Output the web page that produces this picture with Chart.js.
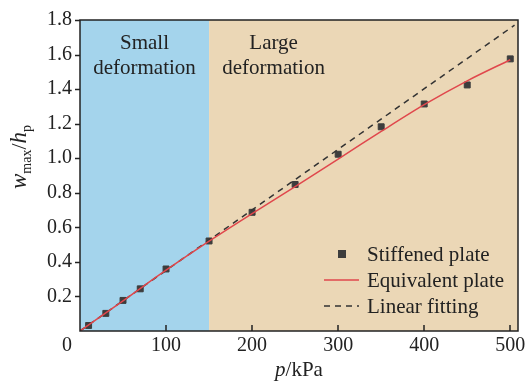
<!DOCTYPE html>
<html><head><meta charset="utf-8">
<script src="https://cdn.jsdelivr.net/npm/chart.js@4/dist/chart.umd.min.js"></script>
<style>html,body{margin:0;padding:0;background:#fff}#wrap{width:530px;height:389px;position:relative}</style>
</head><body><div id="wrap"><canvas id="c" width="530" height="389"></canvas></div>
<script>
// ---- data ----
const pressure   = [10, 30, 50, 70, 100, 150, 200, 250, 300, 350, 400, 450, 500];
const stiffened  = [0.032, 0.102, 0.177, 0.244, 0.359, 0.521, 0.687, 0.848, 1.023, 1.182, 1.314, 1.424, 1.575];
const equivP     = [0, 50, 100, 150, 200, 250, 300, 350, 400, 450, 500];
const equivW     = [0, 0.175, 0.352, 0.52, 0.68, 0.835, 0.995, 1.155, 1.31, 1.448, 1.57];
const fitP       = [0, 505];
const fitW       = [0, 1.77];
const xTicks     = [0, 100, 200, 300, 400, 500];
const yTicks     = [0.2, 0.4, 0.6, 0.8, 1.0, 1.2, 1.4, 1.6, 1.8];
const regionFrom = [0, 150];
const regionTo   = [150, 509];
const regionText = [['Small', 'deformation'], ['Large', 'deformation']];
const regionTextP = [75, 225];
const seriesNames = ['Stiffened plate', 'Equivalent plate', 'Linear fitting'];

const FONT = "'Liberation Serif', 'Times New Roman', serif";
const regionColors = ['#a4d4ec', '#ebd7b6'];
const INK = '#222';

const toXY = (xs, ys) => xs.map((x, i) => ({x, y: ys[i]}));

const decor = {
  id: 'decor',
  beforeDatasetsDraw(chart) {
    const {ctx, chartArea: a, scales: {x, y}} = chart;
    ctx.save();
    regionFrom.forEach((f, i) => {
      const x0 = x.getPixelForValue(f), x1 = x.getPixelForValue(regionTo[i]);
      ctx.fillStyle = regionColors[i];
      ctx.fillRect(x0, a.top, x1 - x0, a.bottom - a.top);
    });
    ctx.fillStyle = INK;
    ctx.font = '21px ' + FONT;
    ctx.textAlign = 'center';
    ctx.textBaseline = 'alphabetic';
    regionText.forEach((lines, i) => {
      const cx = x.getPixelForValue(regionTextP[i]);
      lines.forEach((t, j) => ctx.fillText(t, cx, a.top + 29 + j * 25));
    });
    ctx.restore();
  },
  afterDatasetsDraw(chart) {
    const {ctx, chartArea: a, scales: {x, y}} = chart;
    ctx.save();
    const ds = chart.data.datasets;
    const mx = a.right - 176;
    const rows = [a.bottom - 77, a.bottom - 51, a.bottom - 25];
    ctx.font = '21px ' + FONT;
    ctx.textBaseline = 'middle';
    ctx.textAlign = 'left';
    ctx.fillStyle = ds[0].backgroundColor;
    ctx.fillRect(mx - 4, rows[0] - 4, 8, 8);
    ctx.strokeStyle = ds[1].borderColor; ctx.lineWidth = ds[1].borderWidth;
    ctx.beginPath(); ctx.moveTo(a.right - 194, rows[1]); ctx.lineTo(a.right - 159, rows[1]); ctx.stroke();
    ctx.strokeStyle = ds[2].borderColor; ctx.lineWidth = ds[2].borderWidth;
    ctx.setLineDash(ds[2].borderDash);
    ctx.beginPath(); ctx.moveTo(a.right - 194, rows[2]); ctx.lineTo(a.right - 159, rows[2]); ctx.stroke();
    ctx.setLineDash([]);
    ctx.fillStyle = INK;
    seriesNames.forEach((n, i) => ctx.fillText(n, a.right - 151, rows[i] + 1));
    ctx.restore();
  },
  afterDraw(chart) {
    const {ctx, chartArea: a, scales: {x, y}} = chart;
    ctx.save();
    ctx.strokeStyle = INK;
    ctx.lineWidth = 1.5;
    ctx.strokeRect(a.left, a.top, a.right - a.left, a.bottom - a.top);
    ctx.beginPath();
    yTicks.forEach(v => { const py = Math.round(y.getPixelForValue(v)) + 0.5; ctx.moveTo(a.left - 5, py); ctx.lineTo(a.left, py); });
    xTicks.forEach(v => { if (v === 0) return; const px = Math.round(x.getPixelForValue(v)); ctx.moveTo(px, a.bottom); ctx.lineTo(px, a.bottom - 6); });
    ctx.stroke();
    ctx.fillStyle = INK;
    ctx.font = '20px ' + FONT;
    ctx.textAlign = 'center'; ctx.textBaseline = 'middle';
    ctx.fillText('0', a.left - 13, a.bottom + 15);
    ctx.textBaseline = 'alphabetic';
    const xt = [['p', 'italic 21px ' + FONT], ['/kPa', '21px ' + FONT]];
    let w = 0; xt.forEach(([t, f]) => { ctx.font = f; w += ctx.measureText(t).width; });
    let cx = 299 - w / 2;
    ctx.textAlign = 'left';
    xt.forEach(([t, f]) => { ctx.font = f; ctx.fillText(t, cx, 376); cx += ctx.measureText(t).width; });
    const yt = [['w', 'italic 23px ' + FONT, 0], ['max', '14px ' + FONT, 5], ['/', '22px ' + FONT, 0], ['h', 'italic 23px ' + FONT, 0], ['p', '14px ' + FONT, 5]];
    w = 0; yt.forEach(([t, f]) => { ctx.font = f; w += ctx.measureText(t).width; });
    ctx.translate(26, 157);
    ctx.rotate(-Math.PI / 2);
    let tx = -w / 2;
    yt.forEach(([t, f, dy]) => { ctx.font = f; ctx.fillText(t, tx, 0 + dy); tx += ctx.measureText(t).width; });
    ctx.restore();
  }
};

new Chart(document.getElementById('c'), {
  type: 'scatter',
  data: {
    datasets: [
      { label: seriesNames[0], data: toXY(pressure, stiffened), backgroundColor: '#3d3d3d', borderColor: '#3d3d3d',
        pointStyle: 'rect', pointRadius: 4.2, pointHoverRadius: 4.2, showLine: false, order: 2 },
      { label: seriesNames[1], data: toXY(equivP, equivW), borderColor: '#e0474c', borderWidth: 1.5, pointRadius: 0,
        showLine: true, tension: 0.3, order: 0 },
      { label: seriesNames[2], data: toXY(fitP, fitW), borderColor: '#333', borderWidth: 1.5, borderDash: [6, 5], pointRadius: 0,
        showLine: true, order: 1 }
    ]
  },
  options: {
    responsive: false, animation: false, devicePixelRatio: 1,
    layout: { padding: { left: 0, top: 14, right: 12, bottom: 0 } },
    plugins: { legend: { display: false }, tooltip: { enabled: false } },
    scales: {
      x: {
        type: 'linear', min: 0, max: 509,
        afterBuildTicks: s => { s.ticks = xTicks.map(v => ({value: v})); },
        afterFit: s => { s.height = 58; },
        grid: { display: false, drawTicks: false }, border: { display: false },
        ticks: { color: INK, font: { family: FONT, size: 20 }, padding: 3, maxRotation: 0,
                 callback: v => v === 0 ? '' : String(v) }
      },
      y: {
        type: 'linear', min: 0, max: 1.8,
        afterBuildTicks: s => { s.ticks = yTicks.map(v => ({value: v})); },
        afterFit: s => { s.width = 80; },
        grid: { display: false, drawTicks: false }, border: { display: false },
        ticks: { color: INK, font: { family: FONT, size: 20 }, padding: 8, callback: v => v.toFixed(1) }
      }
    }
  },
  plugins: [decor]
});
</script>
</body></html>
